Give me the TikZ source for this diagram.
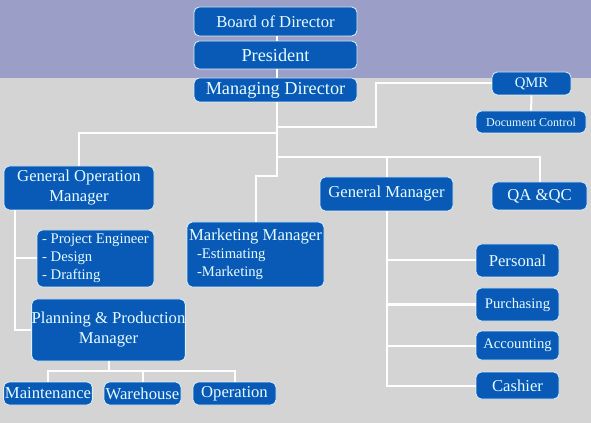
\documentclass[tikz,border=0pt]{standalone}
\usepackage{fontspec}
\setmainfont{Liberation Serif}
\definecolor{bandblue}{RGB}{155,159,200}
\definecolor{panelgray}{RGB}{212,212,212}
\definecolor{boxblue}{RGB}{8,90,182}
\definecolor{boxtext}{RGB}{232,252,255}
\definecolor{boxedge}{RGB}{215,240,250}
\tikzset{
  orgbox/.style={draw=boxedge, line width=0.6pt, rounded corners=4pt,
    fill=boxblue, text=boxtext, font=\fontsize{12.5}{15}\selectfont,
    inner sep=1pt, align=center},
  orgsbox/.style={orgbox, font=\fontsize{11}{13.5}\selectfont},
  orgbbox/.style={orgbox, font=\fontsize{13.7}{16}\selectfont},
  orglink/.style={draw=white, line width=1.5pt},
}

\begin{document}
\begin{tikzpicture}[x=0.75pt, y=-0.75pt]
  \useasboundingbox (0,0) rectangle (591,423);
  % backdrop
  \fill[panelgray] (0,78) rectangle (591,423);
  \fill[bandblue] (0,0) rectangle (591,78);
  % Top: board, president, MD
  \node[orgbox, minimum width=122.25pt, minimum height=21.75pt] at (275.5,21.5) (bod) {Board of Director};
  \node[orgbbox, minimum width=122.25pt, minimum height=21pt] at (275.5,55) (pres) {President};
  \node[orgbbox, minimum width=122.25pt, minimum height=18pt] at (275.5,90) (md) {Managing Director};
  % Quality side
  \node[orgsbox, minimum width=59.25pt, minimum height=17.25pt] at (531.5,83.5) (qmr) {QMR};
  \node[orgbox, font=\fontsize{9}{11}\selectfont, minimum width=82.5pt, minimum height=16.5pt] at (531,122) (doc) {Document Control};
  \node[orgbox, minimum width=71.25pt, minimum height=21pt] at (539.5,196) (qa) {QA \&QC};
  % Second row managers
  \node[orgbox, minimum width=112.5pt, minimum height=33pt] at (79,188) (gom) {General Operation\\Manager};
  \node[orgbox, minimum width=99.75pt, minimum height=25.5pt] at (386.5,194) (gm) {General Manager};
  \node[orgsbox, align=left, minimum width=102.75pt, minimum height=48.75pt] at (255.5,254.5) (mm)
    {{\fontsize{12.5}{15}\selectfont Marketing Manager}\\\hspace*{6pt}-Estimating\\\hspace*{6pt}-Marketing};
  % Operations branch
  \node[orgsbox, align=left, minimum width=87.75pt, minimum height=42.75pt] at (95.5,258.5) (proj)
    {- Project Engineer\\- Design\\- Drafting};
  \node[orgbox, inner xsep=0pt, minimum width=114.75pt, minimum height=46.5pt] at (108.5,330) (ppm) {Planning \& Production\\Manager};
  \node[orgbox, minimum width=66pt, minimum height=17.25pt] at (48,393.5) (maint) {Maintenance};
  \node[orgbox, minimum width=57.75pt, minimum height=17.25pt] at (142.5,393.5) (ware) {Warehouse};
  \node[orgbox, minimum width=62.25pt, minimum height=17.25pt] at (234.5,393.5) (oper) {Operation};
  % GM departments
  \node[orgbox, minimum width=62.25pt, minimum height=24.75pt] at (517.5,260.5) (pers) {Personal};
  \node[orgsbox, minimum width=62.25pt, minimum height=24.75pt] at (517.5,304.5) (purch) {Purchasing};
  \node[orgsbox, minimum width=62.25pt, minimum height=21.75pt] at (517.5,345.5) (acc) {Accounting};
  \node[orgbox, minimum width=62.25pt, minimum height=20.25pt] at (517.5,385.5) (cash) {Cashier};
  % Junctions
  \coordinate (tq) at (277,127);
  \coordinate (tg) at (277,133);
  \coordinate (tr) at (277,157);
  \coordinate (tm) at (277,176);
  \coordinate (qbend) at (376,127);
  \coordinate (gspine) at (15,210);
  \coordinate (pbar) at (108.5,371);
  % Links
  \draw[orglink] (bod.south -| tq) -- (pres.north -| tq);
  \draw[orglink] (pres.south -| tq) -- (md.north -| tq);
  \draw[orglink] (md.south -| tq) -- (tm) -| (mm.north);
  \draw[orglink] (tq) -- (qbend) |- (qmr.west);
  \draw[orglink] (qmr) -- (doc);
  \draw[orglink] (tg) -| (gom.north);
  \draw[orglink] (tr) -| (qa.north);
  \draw[orglink] (gm.north) -- (gm.north |- tr);
  \draw[orglink] (gm.south) |- (cash.west);
  \foreach \dept in {pers,purch,acc}
    \draw[orglink] (gm.south |- \dept.west) -- (\dept.west);
  \draw[orglink] (gspine) |- (ppm.west);
  \draw[orglink] (gspine |- proj.west) -- (proj.west);
  \draw[orglink] (ppm.south) -- (pbar);
  \draw[orglink] (maint.north) |- (oper.north |- pbar) -- (oper.north);
  \draw[orglink] (ware.north) -- (ware.north |- pbar);
\end{tikzpicture}
\end{document}
